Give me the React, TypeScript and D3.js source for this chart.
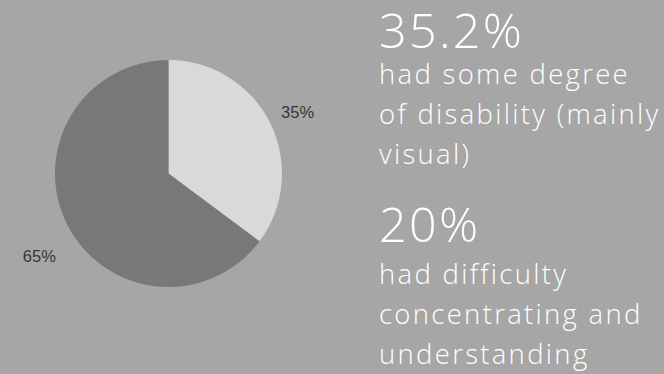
import React from "react";
import * as d3 from "d3";

const categories = ["Some degree of disability", "No disability"];
const values = [35.2, 64.8];
const sliceColors = ["#d9d9d9", "#787878"];

const headline1 = "35.2%";
const body1 = ["had some degree", "of disability (mainly", "visual)"];
const headline2 = "20%";
const body2 = ["had difficulty", "concentrating and", "understanding"];

const W = 664;
const H = 374;

export default function App() {
  const cx = 168.5;
  const cy = 173.5;
  const r = 113.5;
  const pie = d3.pie<number>().sort(null).value((d) => d);
  const arcs = pie(values);
  const arc = d3.arc<d3.PieArcDatum<number>>().innerRadius(0).outerRadius(r);
  const total = d3.sum(values);
  const fmt = (v: number) => `${Math.round((v / total) * 100)}%`;

  const textX = 379;
  const bodySize = 27.5;
  const lineH = 40;
  const spacing = 2.3;

  return (
    <svg
      width={W}
      height={H}
      style={{ position: "absolute", left: 0, top: 0, display: "block" }}
    >
      <rect width={W} height={H} fill="#a6a6a6" />
      <g transform={`translate(${cx},${cy})`}>
        {arcs.map((a, i) => (
          <path key={categories[i]} d={arc(a) || ""} fill={sliceColors[i]} />
        ))}
        {arcs.map((a, i) => {
          const mid = (a.startAngle + a.endAngle) / 2;
          const x = Math.sin(mid) * 126;
          const y = -Math.cos(mid) * 161 + 11;
          return (
            <text
              key={"l" + i}
              x={x}
              y={y}
              dy="0.35em"
              textAnchor={x >= 0 ? "start" : "end"}
              fontFamily="'Liberation Sans', Arial, sans-serif"
              fontSize={16.5}
              fill="#363636"
            >
              {fmt(a.value)}
            </text>
          );
        })}
      </g>
      <g
        fontFamily="'Open Sans', sans-serif"
        fontWeight={300}
        fill="#ffffff"
        letterSpacing={spacing}
      >
        <text x={textX} y={48} fontSize={48.5}>
          {headline1}
        </text>
        {body1.map((t, i) => (
          <text key={t} x={textX} y={83.5 + i * lineH} fontSize={bodySize}>
            {t}
          </text>
        ))}
        <text x={textX} y={242} fontSize={48.5}>
          {headline2}
        </text>
        {body2.map((t, i) => (
          <text key={t} x={textX} y={283.5 + i * lineH} fontSize={bodySize}>
            {t}
          </text>
        ))}
      </g>
    </svg>
  );
}
